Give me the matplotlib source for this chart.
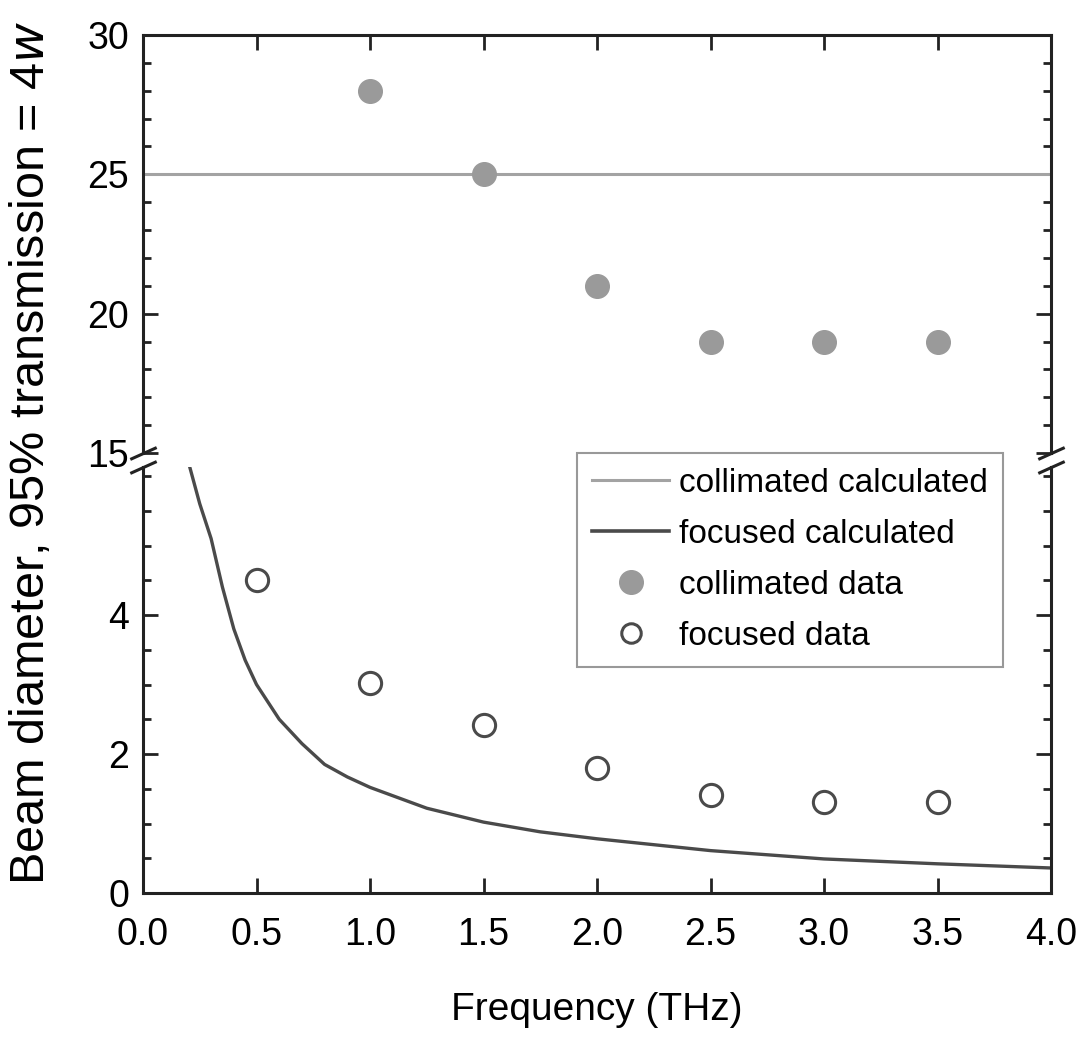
import matplotlib.pyplot as plt
from matplotlib.lines import Line2D

plt.rcParams['font.family'] = ['Liberation Sans', 'DejaVu Sans']

# measured points
collimated_freq = [1.0, 1.5, 2.0, 2.5, 3.0, 3.5]
collimated_data = [28.0, 25.0, 21.0, 19.0, 19.0, 19.0]

focused_freq = [0.5, 1.0, 1.5, 2.0, 2.5, 3.0, 3.5]
focused_data = [4.5, 3.02, 2.42, 1.8, 1.41, 1.31, 1.31]

# calculated curves
collimated_calc_freq = [0.0, 4.0]
collimated_calc = [25.0, 25.0]

focused_calc_freq = [0.20, 0.25, 0.30, 0.35, 0.40, 0.45, 0.50, 0.60, 0.70, 0.80,
                     0.90, 1.00, 1.25, 1.50, 1.75, 2.00, 2.50, 3.00, 3.50, 4.00]
focused_calc = [6.2, 5.6, 5.1, 4.4, 3.8, 3.35, 3.0, 2.5, 2.15, 1.85,
                1.67, 1.52, 1.22, 1.02, 0.88, 0.78, 0.61, 0.49, 0.42, 0.36]

x_ticks = [0.0, 0.5, 1.0, 1.5, 2.0, 2.5, 3.0, 3.5, 4.0]

light = '#a3a3a3'
dark = '#4a4a4a'
dot = '#9a9a9a'

fig = plt.figure(figsize=(10.78, 10.39), dpi=100)
W, H = 1078, 1039
left = 143 / W
width = (1051 - 143) / W
ax1 = fig.add_axes([left, 1 - 453 / H, width, (453 - 35) / H])
ax2 = fig.add_axes([left, 1 - 893 / H, width, (893 - 467) / H])

ax1.plot(collimated_calc_freq, collimated_calc, color=light, lw=2.2)
ax1.plot(collimated_freq, collimated_data, 'o', color=dot, ms=17, mec=dot)

ax2.plot(focused_calc_freq, focused_calc, color=dark, lw=2.4)
ax2.plot(focused_freq, focused_data, 'o', mfc='white', mec=dark, ms=16, mew=2.2)

ax1.set_ylim(15, 30)
ax2.set_ylim(0, (893 - 467) / 69.5)
for ax in (ax1, ax2):
    ax.set_xlim(0, 4)
    ax.set_xticks(x_ticks)
    for s in ax.spines.values():
        s.set_linewidth(2.2)
        s.set_color('#222222')
    ax.tick_params(which='both', direction='in', left=True, right=True, width=2,
                   color='#222222', labelsize=27, pad=10)
    ax.tick_params(which='major', length=11)
    ax.tick_params(which='minor', length=6)

ax1.set_yticks([15, 20, 25, 30])
ax1.set_yticks(range(15, 31), minor=True)
ax1.spines['bottom'].set_visible(False)
ax1.tick_params(axis='x', bottom=False, top=True, labelbottom=False)

ax2.set_yticks([0, 2, 4])
ax2.set_yticks([i * 0.5 for i in range(13)], minor=True)
ax2.spines['top'].set_visible(False)
ax2.tick_params(axis='x', top=False, pad=17)
ax2.set_xticklabels(['%.1f' % t for t in x_ticks])

# break marks
d = 0.45
kw = dict(marker=[(-1, -d), (1, d)], markersize=19, linestyle='none',
          color='#222222', mec='#222222', mew=2.2, clip_on=False)
ax1.plot([0, 1], [0, 0], transform=ax1.transAxes, **kw)
ax2.plot([0, 1], [1, 1], transform=ax2.transAxes, **kw)

fig.text(597 / W, 1 - 1010 / H, 'Frequency (THz)', ha='center', va='center', fontsize=28)
fig.text(32 / W, 1 - 453 / H, 'Beam diameter, 95% transmission = 4$\\it{w}$',
         rotation=90, ha='center', va='center', fontsize=35)

handles = [
    Line2D([], [], color=light, lw=2.2),
    Line2D([], [], color=dark, lw=2.6),
    Line2D([], [], marker='o', ls='none', color=dot, ms=17),
    Line2D([], [], marker='o', ls='none', mfc='white', mec=dark, ms=14, mew=2.2),
]
labels = ['collimated calculated', 'focused calculated', 'collimated data', 'focused data']
leg = fig.legend(handles, labels, loc='upper right',
                 bbox_to_anchor=(1003 / W, 1 - 453 / H), bbox_transform=fig.transFigure,
                 fontsize=24, frameon=True, fancybox=False, framealpha=1,
                 handlelength=2.3, handletextpad=0.3, labelspacing=0.6,
                 borderpad=0.45, borderaxespad=0)
leg.get_frame().set_edgecolor('#999999')
leg.get_frame().set_linewidth(1.5)

plt.savefig('out.png', dpi=100)
